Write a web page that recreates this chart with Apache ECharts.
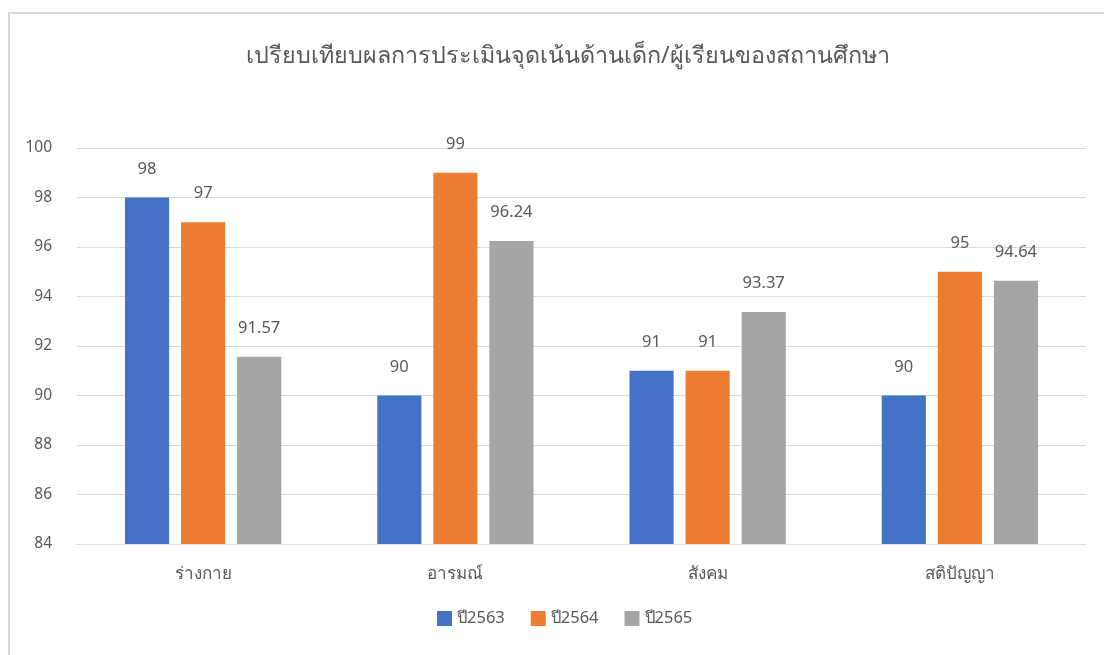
<!DOCTYPE html>
<html><head><meta charset="utf-8">
<script src="https://cdn.jsdelivr.net/npm/echarts@6/dist/echarts.min.js"></script>
<style>
html,body{margin:0;padding:0;background:#fff;overflow:hidden}
#frame{position:absolute;left:8px;top:12px;width:1200px;height:800px;border:2px solid #d9d9d9;box-sizing:border-box}
#c{position:absolute;left:0;top:0;width:1104px;height:655px}
</style></head>
<body>
<div id="frame"></div>
<div id="c"></div>
<script>
const categories = ['ร่างกาย','อารมณ์','สังคม','สติปัญญา'];
const seriesNames = ['ปี2563','ปี2564','ปี2565'];
const v2563 = [98, 90, 91, 90];
const v2564 = [97, 99, 91, 95];
const v2565 = [91.57, 96.24, 93.37, 94.64];
const yTicks = [84, 86, 88, 90, 92, 94, 96, 98, 100];
const colors = ['#4472c4','#ed7d31','#a5a5a5'];
const font = "'Noto Sans', 'DejaVu Sans', sans-serif";

const chart = echarts.init(document.getElementById('c'));
const mk = (name, data, i) => ({
  name, type: 'bar', data,
  barWidth: '17.5%', barGap: '27%',
  itemStyle: { color: colors[i] },
  label: { show: true, position: 'top', distance: 20, color: '#595959', fontSize: 16.5, fontFamily: font },
  emphasis: { disabled: true }
});
chart.setOption({
  animation: false,
  color: colors,
  title: {
    text: 'เปรียบเทียบผลการประเมินจุดเน้นด้านเด็ก/ผู้เรียนของสถานศึกษา',
    left: 241, top: 40,
    textStyle: { fontSize: 23.3, fontWeight: 'normal', color: '#595959', fontFamily: font }
  },
  legend: {
    bottom: 23, left: 432, itemWidth: 15, itemHeight: 15, itemGap: 26,
    icon: 'rect',
    textStyle: { fontSize: 16.5, color: '#595959', fontFamily: font },
    data: seriesNames
  },
  grid: { left: 77, right: 18, top: 148, bottom: 111 },
  xAxis: {
    type: 'category', data: categories,
    axisLine: { lineStyle: { color: '#d9d9d9', width: 1 } },
    axisTick: { show: false },
    axisLabel: { color: '#595959', fontSize: 17, fontFamily: font, margin: 22 }
  },
  yAxis: {
    type: 'value', min: yTicks[0], max: yTicks[yTicks.length-1], interval: 2,
    axisLine: { show: false }, axisTick: { show: false },
    splitLine: { lineStyle: { color: '#d9d9d9', width: 1 } },
    axisLabel: { color: '#595959', fontSize: 15.5, fontFamily: font, margin: 25, align: 'right' }
  },
  series: [mk(seriesNames[0], v2563, 0), mk(seriesNames[1], v2564, 1), mk(seriesNames[2], v2565, 2)]
});
</script>
</body></html>
